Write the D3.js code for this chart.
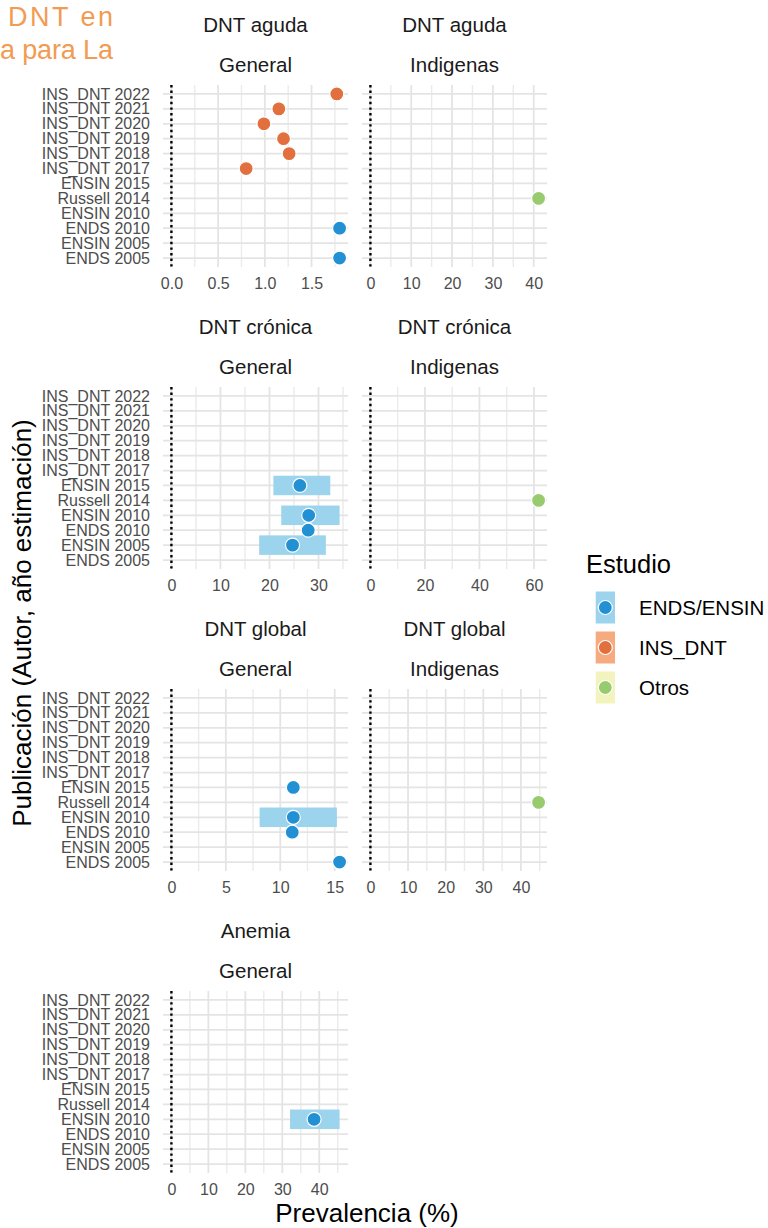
<!DOCTYPE html>
<html>
<head>
<meta charset="utf-8">
<script src="https://cdn.jsdelivr.net/npm/d3@7"></script>
<style>
  body { margin: 0; background: #fff; }
  svg { display: block; }
  text { font-family: "Liberation Sans", Arial, sans-serif; }
</style>
</head>
<body>
<svg id="chart" width="768" height="1228"></svg>
<script>
// Publications, listed top to bottom on the y axis
const publications = [
  "INS_DNT 2022", "INS_DNT 2021", "INS_DNT 2020", "INS_DNT 2019",
  "INS_DNT 2018", "INS_DNT 2017", "ENSIN 2015", "Russell 2014",
  "ENSIN 2010", "ENDS 2010", "ENSIN 2005", "ENDS 2005"
];
const studyGroups = ["ENDS/ENSIN", "INS_DNT", "Otros"];
const publicationStudy = [
  "INS_DNT", "INS_DNT", "INS_DNT", "INS_DNT",
  "INS_DNT", "INS_DNT", "ENDS/ENSIN", "Otros",
  "ENDS/ENSIN", "ENDS/ENSIN", "ENDS/ENSIN", "ENDS/ENSIN"
];

// DNT aguda - General
const agudaGenPub = ["INS_DNT 2022", "INS_DNT 2021", "INS_DNT 2020", "INS_DNT 2019", "INS_DNT 2018", "INS_DNT 2017", "ENDS 2010", "ENDS 2005"];
const agudaGenEst = [1.77, 1.15, 0.99, 1.20, 1.26, 0.80, 1.80, 1.80];
const agudaGenLo  = [null, null, null, null, null, null, null, null];
const agudaGenHi  = [null, null, null, null, null, null, null, null];
const agudaGenTicks = [0, 0.5, 1.0, 1.5];

// DNT aguda - Indigenas
const agudaIndPub = ["Russell 2014"];
const agudaIndEst = [41.2];
const agudaIndLo  = [null];
const agudaIndHi  = [null];
const agudaIndTicks = [0, 10, 20, 30, 40];

// DNT crónica - General
const cronicaGenPub = ["ENSIN 2015", "ENSIN 2010", "ENDS 2010", "ENSIN 2005"];
const cronicaGenEst = [26.2, 28.0, 27.9, 24.7];
const cronicaGenLo  = [20.8, 22.4, null, 17.9];
const cronicaGenHi  = [32.4, 34.3, null, 31.5];
const cronicaGenTicks = [0, 10, 20, 30];

// DNT crónica - Indigenas
const cronicaIndPub = ["Russell 2014"];
const cronicaIndEst = [61.7];
const cronicaIndLo  = [null];
const cronicaIndHi  = [null];
const cronicaIndTicks = [0, 20, 40, 60];

// DNT global - General
const globalGenPub = ["ENSIN 2015", "ENSIN 2010", "ENDS 2010", "ENDS 2005"];
const globalGenEst = [11.2, 11.2, 11.1, 15.45];
const globalGenLo  = [null, 8.1, null, null];
const globalGenHi  = [null, 15.2, null, null];
const globalGenTicks = [0, 5, 10, 15];

// DNT global - Indigenas
const globalIndPub = ["Russell 2014"];
const globalIndEst = [44.7];
const globalIndLo  = [null];
const globalIndHi  = [null];
const globalIndTicks = [0, 10, 20, 30, 40];

// Anemia - General
const anemiaGenPub = ["ENSIN 2010"];
const anemiaGenEst = [38.6];
const anemiaGenLo  = [32.1];
const anemiaGenHi  = [45.5];
const anemiaGenTicks = [0, 10, 20, 30, 40];

// Facet definitions built from the arrays above
const panels = [
  { row: 0, col: 0, outcome: "DNT aguda",   group: "General",   pub: agudaGenPub,   est: agudaGenEst,   lo: agudaGenLo,   hi: agudaGenHi,   ticks: agudaGenTicks,   fmt: d3.format(".1f") },
  { row: 0, col: 1, outcome: "DNT aguda",   group: "Indigenas", pub: agudaIndPub,   est: agudaIndEst,   lo: agudaIndLo,   hi: agudaIndHi,   ticks: agudaIndTicks,   fmt: d3.format("d") },
  { row: 1, col: 0, outcome: "DNT crónica", group: "General",   pub: cronicaGenPub, est: cronicaGenEst, lo: cronicaGenLo, hi: cronicaGenHi, ticks: cronicaGenTicks, fmt: d3.format("d") },
  { row: 1, col: 1, outcome: "DNT crónica", group: "Indigenas", pub: cronicaIndPub, est: cronicaIndEst, lo: cronicaIndLo, hi: cronicaIndHi, ticks: cronicaIndTicks, fmt: d3.format("d") },
  { row: 2, col: 0, outcome: "DNT global",  group: "General",   pub: globalGenPub,  est: globalGenEst,  lo: globalGenLo,  hi: globalGenHi,  ticks: globalGenTicks,  fmt: d3.format("d") },
  { row: 2, col: 1, outcome: "DNT global",  group: "Indigenas", pub: globalIndPub,  est: globalIndEst,  lo: globalIndLo,  hi: globalIndHi,  ticks: globalIndTicks,  fmt: d3.format("d") },
  { row: 3, col: 0, outcome: "Anemia",      group: "General",   pub: anemiaGenPub,  est: anemiaGenEst,  lo: anemiaGenLo,  hi: anemiaGenHi,  ticks: anemiaGenTicks,  fmt: d3.format("d") }
];

// Colours per study group
const pointColor = d3.scaleOrdinal().domain(studyGroups).range(["#2290D3", "#E2703F", "#98CB6E"]);
const bandColor  = d3.scaleOrdinal().domain(studyGroups).range(["#9BD4EC", "#F5AA80", "#F3F3BE"]);
const studyOf = p => publicationStudy[publications.indexOf(p)];

// Layout
const colX = [163, 362];
const panelW = 185;
const panelH = 182;
const rowTop = r => 85 + r * 302;

const svg = d3.select("#chart");

// Orange title fragment in the top-left corner
const titleG = svg.append("g")
  .style("font-family", "Lato, 'Open Sans', sans-serif").style("font-size", "27px").attr("fill", "#F29B52");
titleG.append("text").attr("x", 8).attr("y", 26)
  .attr("textLength", 105).attr("lengthAdjust", "spacing").text("DNT  en");
titleG.append("text").attr("x", 0).attr("y", 59)
  .attr("textLength", 113).attr("lengthAdjust", "spacing").text("a para La");

panels.forEach(p => {
  const x0 = colX[p.col];
  const top = rowTop(p.row);
  const bottom = top + panelH;

  // x domain: data, intervals and the zero reference line, expanded by 5%
  const vals = [0, ...p.est, ...p.lo.filter(v => v != null), ...p.hi.filter(v => v != null)];
  const lo = d3.min(vals), hi = d3.max(vals);
  const pad = (hi - lo) * 0.05;
  const x = d3.scaleLinear().domain([lo - pad, hi + pad]).range([x0, x0 + panelW]);
  const y = d3.scalePoint().domain(publications).range([top, bottom]).padding(0.6);

  const g = svg.append("g");

  // minor grid (midpoints between major ticks)
  const step = p.ticks[1] - p.ticks[0];
  const minor = [];
  for (let v = p.ticks[0] + step / 2; v <= x.domain()[1]; v += step) minor.push(v);
  g.selectAll(".minor").data(minor).join("line")
    .attr("x1", d => x(d)).attr("x2", d => x(d)).attr("y1", top).attr("y2", bottom)
    .attr("stroke", "#ebebeb").attr("stroke-width", 1.4);

  // major grid
  g.selectAll(".major").data(p.ticks).join("line")
    .attr("x1", d => x(d)).attr("x2", d => x(d)).attr("y1", top).attr("y2", bottom)
    .attr("stroke", "#e4e4e4").attr("stroke-width", 1.8);
  g.selectAll(".hgrid").data(publications).join("line")
    .attr("x1", x0).attr("x2", x0 + panelW).attr("y1", d => y(d)).attr("y2", d => y(d))
    .attr("stroke", "#e4e4e4").attr("stroke-width", 1.8);

  // zero reference line
  g.append("line").attr("x1", x(0)).attr("x2", x(0)).attr("y1", top).attr("y2", bottom)
    .attr("stroke", "#000").attr("stroke-width", 2.4).attr("stroke-dasharray", "2.4,3.2");

  const rows = p.pub.map((pub, i) => ({ pub, est: p.est[i], lo: p.lo[i], hi: p.hi[i], study: studyOf(pub) }));

  // confidence intervals
  g.selectAll(".ci").data(rows.filter(d => d.lo != null)).join("rect")
    .attr("x", d => x(d.lo)).attr("width", d => x(d.hi) - x(d.lo))
    .attr("y", d => y(d.pub) - 9.75).attr("height", 19.5)
    .attr("fill", d => bandColor(d.study));

  // point estimates
  g.selectAll(".pt").data(rows).join("circle")
    .attr("cx", d => x(d.est)).attr("cy", d => y(d.pub)).attr("r", 7)
    .attr("fill", d => pointColor(d.study)).attr("stroke", "#fff").attr("stroke-width", 1.2);

  // x axis
  const xAxis = g.append("g").attr("transform", `translate(0,${bottom})`)
    .call(d3.axisBottom(x).tickValues(p.ticks).tickFormat(p.fmt).tickSize(0).tickPadding(10.5));
  xAxis.select(".domain").remove();
  xAxis.selectAll("text").attr("fill", "#4d4d4d").style("font-size", "16px")
    .style("font-family", "'Liberation Sans', Arial, sans-serif");

  // y axis only on the left column
  if (p.col === 0) {
    const yAxis = g.append("g").attr("transform", `translate(${x0},0)`)
      .call(d3.axisLeft(y).tickSize(0).tickPadding(13));
    yAxis.select(".domain").remove();
    yAxis.selectAll("text").attr("fill", "#4d4d4d").style("font-size", "16px")
      .style("font-family", "'Liberation Sans', Arial, sans-serif");
  }

  // strip labels
  const cx = x0 + panelW / 2;
  g.append("text").attr("x", cx).attr("y", top - 53).attr("text-anchor", "middle")
    .attr("fill", "#1a1a1a").style("font-size", "20.5px").text(p.outcome);
  g.append("text").attr("x", cx).attr("y", top - 13.5).attr("text-anchor", "middle")
    .attr("fill", "#1a1a1a").style("font-size", "20.5px").text(p.group);
});

// axis titles
svg.append("text").attr("x", 367).attr("y", 1222).attr("text-anchor", "middle")
  .style("font-size", "26px").attr("fill", "#000").text("Prevalencia (%)");
svg.append("text").attr("transform", "translate(31,623) rotate(-90)").attr("text-anchor", "middle")
  .style("font-size", "26px").attr("fill", "#000").text("Publicación (Autor, año estimación)");

// legend
const legend = svg.append("g").attr("transform", "translate(586,0)");
legend.append("text").attr("x", 0).attr("y", 573).style("font-size", "25.5px").attr("fill", "#000").text("Estudio");
const keys = legend.selectAll(".key").data(studyGroups).join("g")
  .attr("transform", (d, i) => `translate(0,${607.5 + i * 40})`);
keys.append("rect").attr("x", 9.7).attr("y", -16).attr("width", 19.3).attr("height", 32)
  .attr("fill", d => bandColor(d));
keys.append("circle").attr("cx", 19.3).attr("cy", 0).attr("r", 7)
  .attr("fill", d => pointColor(d)).attr("stroke", "#fff").attr("stroke-width", 1.2);
keys.append("text").attr("x", 53).attr("y", 0).attr("dy", "0.35em")
  .style("font-size", "20.5px").attr("fill", "#000").text(d => d);
</script>
</body>
</html>
